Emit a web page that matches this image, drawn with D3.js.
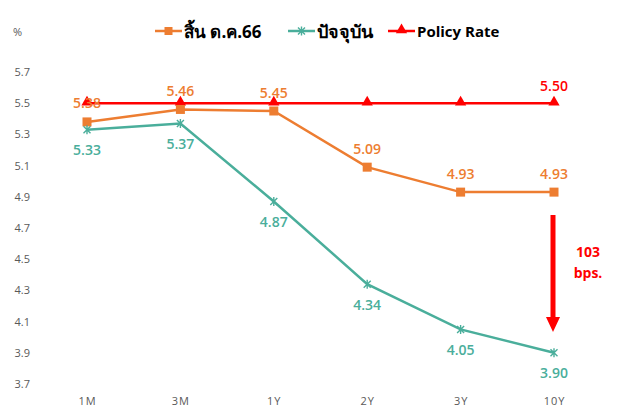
<!DOCTYPE html>
<html>
<head>
<meta charset="utf-8">
<script src="https://cdn.jsdelivr.net/npm/d3@7"></script>
<style>
  body { margin: 0; background: #fff; }
  svg text { font-family: "Open Sans", "Noto Sans", "DejaVu Sans", sans-serif; }
</style>
</head>
<body>
<div id="chart"></div>
<script>
// data
var categories = ['1M', '3M', '1Y', '2Y', '3Y', '10Y']
var endDec66 = [5.38, 5.46, 5.45, 5.09, 4.93, 4.93]
var current = [5.33, 5.37, 4.87, 4.34, 4.05, 3.90]
var policyRate = [5.50, 5.50, 5.50, 5.50, 5.50, 5.50]
var yTicks = [3.7, 3.9, 4.1, 4.3, 4.5, 4.7, 4.9, 5.1, 5.3, 5.5, 5.7]

var width = 621, height = 416
var orange = '#ED7D31', teal = '#4AAE9B', red = '#FF0000'

var svg = d3.select('#chart').append('svg')
  .attr('width', width)
  .attr('height', height)

var x = d3.scalePoint().domain(categories).range([87, 554])
var y = d3.scaleLinear().domain([3.7, 5.7]).range([384, 72])

// y axis (no line, just labels)
var yAxis = svg.append('g')
  .attr('transform', 'translate(36,0)')
  .call(d3.axisLeft(y).tickValues(yTicks).tickSize(0).tickFormat(d3.format('.1f')))
yAxis.select('.domain').remove()
yAxis.selectAll('text')
  .attr('fill', '#595959')
  .style('font-size', '11px')
  .attr('x', -6)

// x axis
var xAxis = svg.append('g')
  .attr('transform', 'translate(0,394)')
  .call(d3.axisBottom(x).tickSize(0))
xAxis.select('.domain').remove()
xAxis.selectAll('text')
  .attr('fill', '#595959')
  .style('font-size', '11px')
  .style('letter-spacing', '1px')
  .attr('dy', '0.71em')

svg.append('text')
  .attr('x', 13).attr('y', 36)
  .attr('fill', '#595959')
  .style('font-size', '11px')
  .text('%')

var line = d3.line()
  .x(function(d, i) { return x(categories[i]) })
  .y(function(d) { return y(d) })

function drawSeries(values, color) {
  svg.append('path')
    .datum(values)
    .attr('fill', 'none')
    .attr('stroke', color)
    .attr('stroke-width', 2.5)
    .attr('d', line)
}

drawSeries(policyRate, red)
drawSeries(endDec66, orange)
drawSeries(current, teal)

// markers
var tri = d3.symbol().type(d3.symbolTriangle).size(55)
svg.append('g').selectAll('path')
  .data(policyRate)
  .join('path')
    .attr('d', tri)
    .attr('fill', red)
    .attr('transform', function(d, i) { return 'translate(' + x(categories[i]) + ',' + (y(d) - 1) + ')' })

svg.append('g').selectAll('rect')
  .data(endDec66)
  .join('rect')
    .attr('x', function(d, i) { return x(categories[i]) - 4.5 })
    .attr('y', function(d) { return y(d) - 4.5 })
    .attr('width', 9)
    .attr('height', 9)
    .attr('fill', orange)

// excel style asterisk: an x with a vertical stroke
var star = 'M-3.5,-3.5L3.5,3.5M-3.5,3.5L3.5,-3.5M0,-4.5L0,4.5'
svg.append('g').selectAll('path')
  .data(current)
  .join('path')
    .attr('d', star)
    .attr('fill', 'none')
    .attr('stroke', teal)
    .attr('stroke-width', 1.4)
    .attr('transform', function(d, i) { return 'translate(' + x(categories[i]) + ',' + y(d) + ')' })

// value labels
function labels(values, color, dy) {
  svg.append('g').selectAll('text')
    .data(values)
    .join('text')
      .attr('x', function(d, i) { return x(categories[i]) })
      .attr('y', function(d) { return y(d) + dy })
      .attr('text-anchor', 'middle')
      .attr('dominant-baseline', 'central')
      .attr('fill', color)
      .style('font-size', '14px')
      .style('font-weight', 600)
      .text(function(d) { return d3.format('.2f')(d) })
}
labels(endDec66, orange, -19)
labels(current, teal, 20)

// only the last policy point carries a label
svg.append('text')
  .attr('x', x('10Y'))
  .attr('y', y(policyRate[5]) - 18)
  .attr('text-anchor', 'middle')
  .attr('dominant-baseline', 'central')
  .attr('fill', red)
  .style('font-size', '14px')
  .style('font-weight', 600)
  .text(d3.format('.2f')(policyRate[5]))

// arrow showing the 10Y gap
var ax = x('10Y') - 1
svg.append('line')
  .attr('x1', ax).attr('x2', ax)
  .attr('y1', 215).attr('y2', 318)
  .attr('stroke', red)
  .attr('stroke-width', 5)
svg.append('path')
  .attr('d', 'M' + (ax - 7) + ',317L' + (ax + 7) + ',317L' + ax + ',332Z')
  .attr('fill', red)

svg.append('text')
  .attr('x', 588).attr('y', 257)
  .attr('text-anchor', 'middle')
  .attr('fill', red)
  .style('font-size', '14px')
  .style('font-weight', 700)
  .text('103')
svg.append('text')
  .attr('x', 588).attr('y', 278)
  .attr('text-anchor', 'middle')
  .attr('fill', red)
  .style('font-size', '14px')
  .style('font-weight', 700)
  .text('bps.')

// legend
var legend = [
  { name: 'สิ้น ด.ค.66', color: orange, mark: 'square', lx: 155, size: 17 },
  { name: 'ปัจจุบัน', color: teal, mark: 'x', lx: 288, size: 18 },
  { name: 'Policy Rate', color: red, mark: 'tri', lx: 388, size: 15 }
]
var lg = svg.append('g')
legend.forEach(function(l) {
  var cy = 31
  lg.append('line')
    .attr('x1', l.lx).attr('x2', l.lx + 27)
    .attr('y1', cy).attr('y2', cy)
    .attr('stroke', l.color).attr('stroke-width', 2.5)
  var cx = l.lx + 13.5
  if (l.mark == 'square')
    lg.append('rect').attr('x', cx - 4).attr('y', cy - 4).attr('width', 8).attr('height', 8).attr('fill', l.color)
  else if (l.mark == 'x')
    lg.append('path').attr('d', star).attr('transform', 'translate(' + cx + ',' + cy + ')')
      .attr('fill', 'none').attr('stroke', l.color).attr('stroke-width', 1.4)
  else
    lg.append('path').attr('d', tri).attr('transform', 'translate(' + cx + ',' + (cy - 1) + ')').attr('fill', l.color)
  lg.append('text')
    .attr('x', l.lx + 29).attr('y', cy)
    .attr('dominant-baseline', 'central')
    .attr('fill', '#000')
    .style('font-size', l.size + 'px')
    .style('font-weight', 700)
    .text(l.name)
})
</script>
</body>
</html>
